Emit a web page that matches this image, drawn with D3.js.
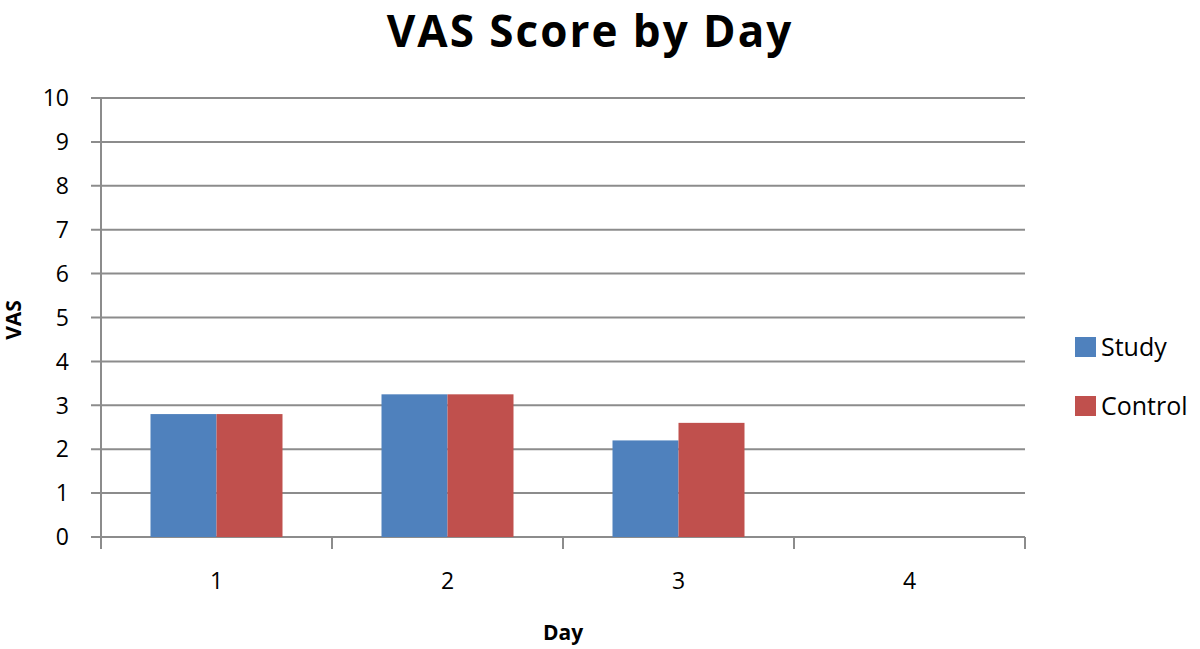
<!DOCTYPE html>
<html>
<head>
<meta charset="utf-8">
<script src="https://cdn.jsdelivr.net/npm/d3@7"></script>
<style>
  body { margin: 0; background: #fff; }
  text { font-family: "Open Sans", "DejaVu Sans", sans-serif; fill: #000; }
</style>
</head>
<body>
<div id="chart"></div>
<script>
// data
var days = ["1", "2", "3", "4"];
var series = ["Study", "Control"];
var study = [2.8, 3.25, 2.2, null];
var control = [2.8, 3.25, 2.6, null];
var yTicks = [0, 1, 2, 3, 4, 5, 6, 7, 8, 9, 10];
var colors = ["#4f81bd", "#c0504d"];

var width = 1200;
var height = 649;

var svg = d3.select("#chart")
    .append("svg")
    .attr("width", width)
    .attr("height", height);

var x = d3.scaleBand().domain(days).range([101, 1025]);
var x1 = d3.scaleBand().domain(series)
    .range([0, x.bandwidth()])
    .paddingInner(0)
    .paddingOuter(0.75);
var y = d3.scaleLinear().domain([0, 10]).range([537, 98]);

// gridlines
svg.append("g")
    .selectAll("line")
    .data(yTicks)
    .enter()
    .append("line")
    .attr("x1", 91)
    .attr("x2", 1025)
    .attr("y1", function (d) { return y(d); })
    .attr("y2", function (d) { return y(d); })
    .attr("stroke", "#8c8c8c")
    .attr("stroke-width", 2);

// bars
var rows = days.map(function (d, i) {
    return { day: d, vals: [study[i], control[i]] };
});

var groups = svg.append("g")
    .selectAll("g")
    .data(rows)
    .enter()
    .append("g")
    .attr("transform", function (d) { return "translate(" + x(d.day) + ",0)"; });

groups.selectAll("rect")
    .data(function (d) {
        return series.map(function (s, j) { return { s: s, v: d.vals[j], j: j }; })
            .filter(function (e) { return e.v != null; });
    })
    .enter()
    .append("rect")
    .attr("x", function (d) { return x1(d.s); })
    .attr("width", x1.bandwidth())
    .attr("y", function (d) { return y(d.v); })
    .attr("height", function (d) { return y(0) - y(d.v); })
    .attr("fill", function (d) { return colors[d.j]; });

// y axis line
svg.append("line")
    .attr("x1", 101).attr("x2", 101)
    .attr("y1", y(10)).attr("y2", y(0) + 12)
    .attr("stroke", "#8c8c8c")
    .attr("stroke-width", 2);

// x axis ticks
var xTickPos = days.map(function (d) { return x(d); }).concat([x.range()[1]]);
svg.append("g")
    .selectAll("line")
    .data(xTickPos)
    .enter()
    .append("line")
    .attr("x1", function (d) { return d; })
    .attr("x2", function (d) { return d; })
    .attr("y1", y(0))
    .attr("y2", y(0) + 12)
    .attr("stroke", "#8c8c8c")
    .attr("stroke-width", 2);

// y tick labels
svg.append("g")
    .selectAll("text")
    .data(yTicks)
    .enter()
    .append("text")
    .attr("x", 69)
    .attr("y", function (d) { return y(d); })
    .attr("dy", "0.36em")
    .attr("text-anchor", "end")
    .attr("font-size", "23px")
    .text(function (d) { return d; });

// x tick labels
svg.append("g")
    .selectAll("text")
    .data(days)
    .enter()
    .append("text")
    .attr("x", function (d) { return x(d) + x.bandwidth() / 2; })
    .attr("y", 589)
    .attr("text-anchor", "middle")
    .attr("font-size", "23px")
    .text(function (d) { return d; });

// axis titles
svg.append("text")
    .attr("x", 563)
    .attr("y", 640)
    .attr("text-anchor", "middle")
    .attr("font-size", "21px")
    .attr("font-weight", 700)
    .text("Day");

svg.append("text")
    .attr("transform", "translate(21,320) rotate(-90)")
    .attr("text-anchor", "middle")
    .attr("font-size", "21px")
    .attr("font-weight", 700)
    .text("VAS");

// title
svg.append("text")
    .attr("x", 590)
    .attr("y", 47)
    .attr("text-anchor", "middle")
    .attr("font-size", "44px")
    .attr("font-weight", 700)
    .attr("letter-spacing", "2px")
    .text("VAS Score by Day");

// legend
var legend = svg.append("g")
    .selectAll("g")
    .data(series)
    .enter()
    .append("g")
    .attr("transform", function (d, i) { return "translate(1075," + (337 + i * 59) + ")"; });

legend.append("rect")
    .attr("width", 21)
    .attr("height", 20)
    .attr("fill", function (d, i) { return colors[i]; });

legend.append("text")
    .attr("x", 26)
    .attr("y", 10)
    .attr("dy", "0.36em")
    .attr("font-size", "25px")
    .text(function (d) { return d; });
</script>
</body>
</html>
